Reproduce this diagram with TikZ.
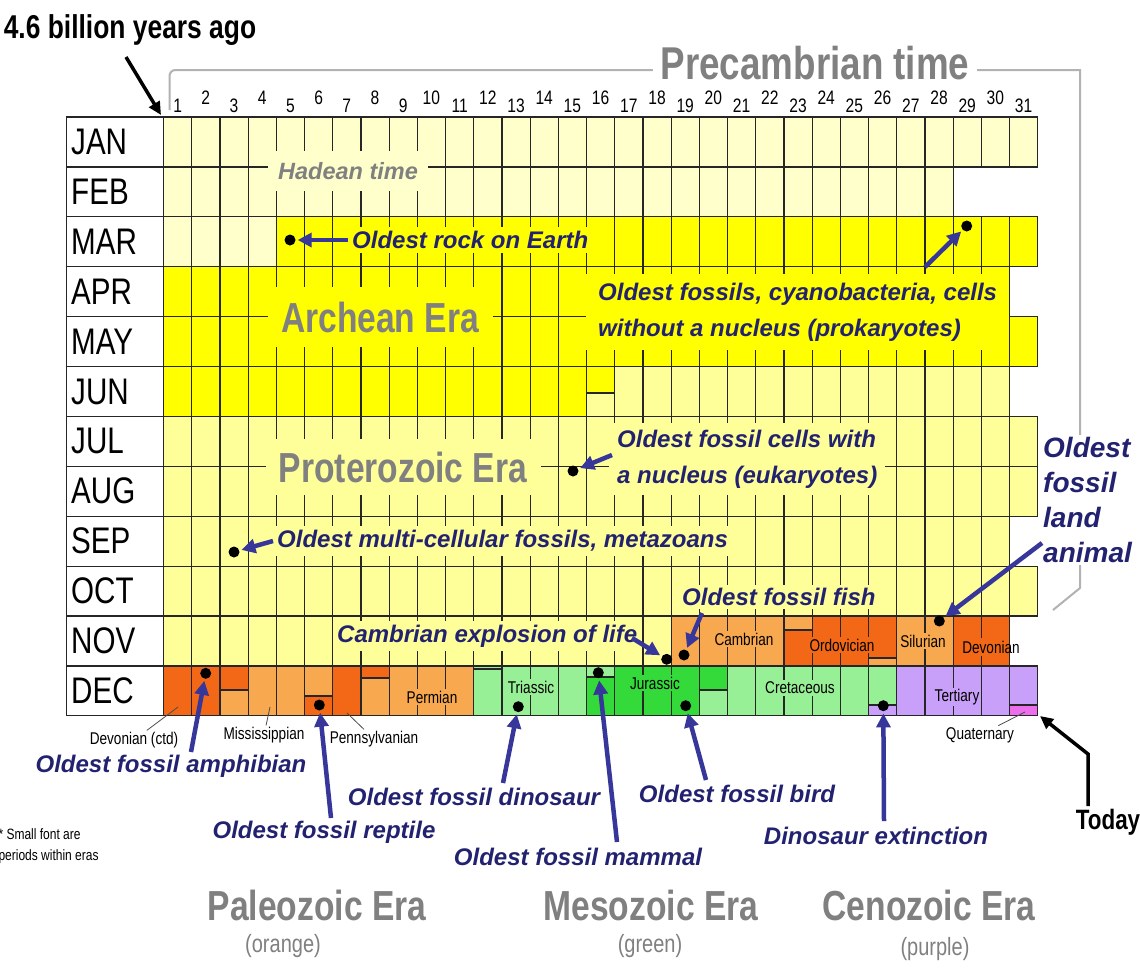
\documentclass[tikz,border=0pt]{standalone}
\usepackage{fontspec}
\setmainfont{Liberation Sans}
\newfontfamily\narrowfont[FakeStretch=0.8]{Liberation Sans}
\usetikzlibrary{arrows.meta,positioning}

\definecolor{hadean}{RGB}{255,255,204}
\definecolor{archean}{RGB}{255,255,0}
\definecolor{protero}{RGB}{255,255,153}
\definecolor{lorange}{RGB}{248,168,78}
\definecolor{dorange}{RGB}{242,104,22}
\definecolor{lgreen}{RGB}{152,240,150}
\definecolor{bgreen}{RGB}{52,218,58}
\definecolor{tpurple}{RGB}{200,160,250}
\definecolor{qmagenta}{RGB}{236,110,236}
\definecolor{annblue}{RGB}{34,34,112}
\definecolor{arrowblue}{RGB}{55,55,155}
\definecolor{eragrey}{RGB}{128,128,128}

% grid of the calendar (pt = px of the reference)
\newcommand\GX{163.5}
\newcommand\CW{28.2}
\newcommand\GY{117}
\newcommand\RH{49.9}
\newcommand\band[4]{\fill[#4] ({\GX+(#2-1)*\CW},{\GY+(#1-1)*\RH}) rectangle ({\GX+#3*\CW},{\GY+#1*\RH});}
\newcommand\cellpart[4]{\fill[#4] ({\GX+(#1-1)*\CW},#2) rectangle ({\GX+#1*\CW},#3);}
\newcommand\stepline[2]{\draw[gridline] ({\GX+(#1-1)*\CW},#2) -- ({\GX+#1*\CW},#2);}

\tikzset{
  gridline/.style={draw=black!85, line width=1.2pt},
  month/.style={anchor=west, font=\narrowfont\fontsize{37}{40}\selectfont, inner sep=0pt},
  daynum/.style={font=\narrowfont\fontsize{19.5}{21}\selectfont, inner sep=0pt},
  period/.style={font=\narrowfont\fontsize{17}{19}\selectfont, inner sep=1.5pt},
  ann/.style={text=annblue, font=\bfseries\itshape\fontsize{24}{36}\selectfont, inner sep=1pt},
  annleft/.style={ann, align=left, anchor=west},
  era/.style={text=eragrey, font=\narrowfont\bfseries\fontsize{42}{44}\selectfont, inner sep=0pt},
  erasub/.style={text=eragrey, font=\narrowfont\fontsize{25}{27}\selectfont, inner sep=0pt},
  fossil/.style={circle, fill=black, inner sep=0pt, minimum size=11pt},
  pointer/.style={draw=arrowblue, line width=4.5pt, -{Triangle[length=14pt,width=14pt]}, shorten >=2pt},
  blackarrow/.style={draw=black, line width=3.5pt, -{Triangle[length=13pt,width=12pt]}},
  tag/.style={draw=black!70, line width=0.8pt},
  bracket/.style={draw=black!30, line width=2pt},
}

\begin{document}
\begin{tikzpicture}[x=1pt,y=-1pt]
\useasboundingbox (0,0) rectangle (1140,967);
\fill[white] (0,0) rectangle (1140,967);

% era colours
\band{1}{1}{31}{hadean}
\band{2}{1}{28}{hadean}
\band{3}{1}{4}{hadean}
\band{3}{5}{31}{archean}
\band{4}{1}{30}{archean}
\band{5}{1}{31}{archean}
\band{6}{1}{15}{archean}
\cellpart{16}{366.5}{393}{archean}
\cellpart{16}{393}{416.4}{protero}
\band{6}{17}{30}{protero}
\band{7}{1}{31}{protero}
\band{8}{1}{31}{protero}
\band{9}{1}{30}{protero}
\band{10}{1}{31}{protero}
\band{11}{1}{18}{protero}
\band{11}{19}{22}{lorange}
\cellpart{23}{616}{630}{lorange}
\cellpart{23}{630}{665.9}{dorange}
\band{11}{24}{25}{dorange}
\cellpart{26}{616}{658}{dorange}
\cellpart{26}{658}{665.9}{lorange}
\band{11}{27}{28}{lorange}
\band{11}{29}{30}{dorange}
\band{12}{1}{2}{dorange}
\cellpart{3}{665.9}{690}{dorange}
\cellpart{3}{690}{715.8}{lorange}
\band{12}{4}{5}{lorange}
\cellpart{6}{665.9}{696}{lorange}
\cellpart{6}{696}{715.8}{dorange}
\band{12}{7}{7}{dorange}
\cellpart{8}{665.9}{678}{dorange}
\cellpart{8}{678}{715.8}{lorange}
\band{12}{9}{11}{lorange}
\band{12}{12}{15}{lgreen}
\cellpart{16}{665.9}{677}{lgreen}
\cellpart{16}{677}{715.8}{bgreen}
\band{12}{17}{19}{bgreen}
\cellpart{20}{665.9}{690}{bgreen}
\cellpart{20}{690}{715.8}{lgreen}
\band{12}{21}{25}{lgreen}
\cellpart{26}{665.9}{705}{lgreen}
\cellpart{26}{705}{715.8}{tpurple}
\band{12}{27}{30}{tpurple}
\cellpart{31}{665.9}{705}{tpurple}
\cellpart{31}{705}{715.8}{qmagenta}

% grid
\foreach \m/\n in {1/31,2/28,3/31,4/30,5/31,6/30,7/31,8/31,9/30,10/31,11/30,12/31}{
  \pgfmathsetmacro\rowtop{\GY+(\m-1)*\RH}
  \pgfmathtruncatemacro\last{\n-1}
  \draw[gridline] (66.7,\rowtop) rectangle (\GX,{\rowtop+\RH});
  \draw[gridline] (\GX,\rowtop) rectangle ({\GX+\n*\CW},{\rowtop+\RH});
  \foreach \d in {1,...,\last}
    \draw[gridline] ({\GX+\d*\CW},\rowtop) -- ++(0,\RH);
}
\stepline{16}{393}
\stepline{23}{630}
\stepline{26}{658}
\stepline{3}{690}
\stepline{6}{696}
\stepline{8}{678}
\stepline{12}{669}
\stepline{16}{677}
\stepline{20}{690}
\stepline{26}{705}
\stepline{31}{705}

% months and days
\foreach \m/\name in {1/JAN,2/FEB,3/MAR,4/APR,5/MAY,6/JUN,7/JUL,8/AUG,9/SEP,10/OCT,11/NOV,12/DEC}
  \node[month] (mon\m) at (71,{\GY+(\m-0.5)*\RH}) {\name};
\foreach \d in {1,...,31}{
  \pgfmathsetmacro\ny{mod(\d,2)==1 ? 106 : 98}
  \node[daynum] (day\d) at ({\GX+(\d-0.5)*\CW},\ny) {\d};
}

% Precambrian bracket
\draw[bracket] (169.5,110) [rounded corners=6pt] -- (169.5,70) -- (400,70) [sharp corners] -- (1080,70) -- (1080,588) -- (1053,610);
\node[era, fill=white, inner xsep=8pt, inner ysep=3pt, font=\narrowfont\bfseries\fontsize{46}{48}\selectfont] (precam) at (815,63) {Precambrian time};

\node[font=\narrowfont\bfseries\fontsize{33}{35}\selectfont] (age) at (130,30) {4.6 billion years ago};
\coordinate (agetail) at (126,57);
\coordinate (agetip) at (161,115);
\draw[blackarrow] (agetail) -- (agetip);

% eras inside the calendar
\node[era, fill=hadean, minimum width=160pt, minimum height=40pt, font=\bfseries\itshape\fontsize{23.5}{26}\selectfont] (hadean) at (348,171) {Hadean time};
\node[era, fill=archean, minimum width=225pt, minimum height=60pt] (archean) at (380,317) {Archean Era};
\node[era, fill=protero, minimum width=275pt, minimum height=56pt] (proterozoic) at (403,467) {Proterozoic Era};

% periods
\node[period, fill=lorange] (cambrian) at (744,639) {Cambrian};
\node[period, fill=dorange] (ordovician) at (842,645) {Ordovician};
\node[period, fill=lorange] (silurian) at (923,641) {Silurian};
\fill[dorange] (964,638) rectangle (1008.3,656);
\node[period] (devonian) at (991,647) {Devonian};
\node[period, fill=lorange] (permian) at (432,697) {Permian};
\node[period, fill=lgreen] (triassic) at (531,687) {Triassic};
\node[period, fill=bgreen] (jurassic) at (655,683) {Jurassic};
\node[period, fill=lgreen] (cretaceous) at (800,688) {Cretaceous};
\node[period, fill=tpurple] (tertiary) at (957,697) {Tertiary};

\node[period] (devctd) at (134,740) {Devonian (ctd)};
\node[period] (mississippian) at (264,735) {Mississippian};
\node[period] (pennsylvanian) at (374,739) {Pennsylvanian};
\node[period] (quaternary) at (980,735) {Quaternary};
\coordinate (devctdpt) at (178,707);
\coordinate (misspt) at (270,707);
\coordinate (pennpt) at (347,713);
\coordinate (quatpt) at (1025,712);
\draw[tag] (devctd) -- (devctdpt);
\draw[tag] (mississippian) -- (misspt);
\draw[tag] (pennsylvanian) -- (pennpt);
\draw[tag] (quaternary) -- (quatpt);

% fossil events
\node[fossil] (rockdot) at (290,240) {};
\node[fossil] (cyanodot) at (966.7,226) {};
\node[fossil] (eukdot) at (573,471) {};
\node[fossil] (metadot) at (234,552) {};
\node[fossil] (camdot) at (666.7,659.3) {};
\node[fossil] (fishdot) at (684,655) {};
\node[fossil] (landdot) at (939.3,621) {};
\node[fossil] (amphdot) at (205.7,673.3) {};
\node[fossil] (reptdot) at (319.3,705) {};
\node[fossil] (dinodot) at (518.3,706.7) {};
\node[fossil] (mammdot) at (598.3,672.7) {};
\node[fossil] (birddot) at (685.7,705.7) {};
\node[fossil] (extdot) at (883.3,705.7) {};

\node[annleft, fill=archean, inner xsep=4pt, inner ysep=4pt] (rock) at (348,240) {Oldest rock on Earth};
\node[annleft, fill=archean, inner xsep=12pt, inner ysep=9pt] (cyano) at (586,312) {Oldest fossils, cyanobacteria, cells\\without a nucleus (prokaryotes)};
\node[annleft, fill=protero, inner xsep=8pt, inner ysep=7pt] (euk) at (609,459) {Oldest fossil cells with\\a nucleus (eukaryotes)};
\node[annleft, fill=protero, inner sep=4pt] (meta) at (273,541) {Oldest multi-cellular fossils, metazoans};
\node[annleft, fill=protero, inner sep=4pt] (camexp) at (333,636) {Cambrian explosion of life};
\node[annleft, fill=protero, inner sep=3pt] (fish) at (679,597) {Oldest fossil fish};
\node[annleft, fill=white, inner sep=2pt, font=\bfseries\itshape\fontsize{28}{35}\selectfont] (land) at (1041,500) {Oldest\\fossil\\land\\animal};

\node[ann] (amph) at (171,766) {Oldest fossil amphibian};
\node[ann] (rept) at (324,832) {Oldest fossil reptile};
\node[ann] (dino) at (474,797) {Oldest fossil dinosaur};
\node[ann] (mamm) at (578,857) {Oldest fossil mammal};
\node[ann] (bird) at (737,794) {Oldest fossil bird};
\node[ann] (ext) at (876,836) {Dinosaur extinction};

\coordinate (cyanotail) at (925,267);
\coordinate (euktail) at (612,455);
\coordinate (camtail) at (632,638);
\coordinate (fishtail) at (702,613);
\coordinate (landtail) at (1042,543);
\coordinate (amphtail) at (191,752);
\coordinate (repttail) at (331,818);
\coordinate (dinotail) at (503,783);
\coordinate (mammtail) at (617,842);
\coordinate (birdtail) at (706,780);
\coordinate (exttail) at (884,821);

\draw[pointer] (rock.west) -- (rockdot);
\draw[pointer] (cyanotail) -- (cyanodot);
\draw[pointer] (euktail) -- (eukdot);
\draw[pointer] (meta.west) -- (metadot);
\draw[pointer] (camtail) -- (camdot);
\draw[pointer] (fishtail) -- (fishdot);
\draw[pointer] (landtail) -- (landdot);
\draw[pointer] (amphtail) -- (amphdot);
\draw[pointer] (repttail) -- (reptdot);
\draw[pointer] (dinotail) -- (dinodot);
\draw[pointer] (mammtail) -- (mammdot);
\draw[pointer] (birdtail) -- (birddot);
\draw[pointer] (exttail) -- (extdot);

% today
\node[font=\narrowfont\bfseries\fontsize{28}{30}\selectfont] (today) at (1108,822) {Today};
\coordinate (todaytail) at (1088,806);
\coordinate (todaybend) at (1088,754);
\coordinate (todaytip) at (1040,716);
\draw[blackarrow] (todaytail) -- (todaybend) -- (todaytip);

\node[anchor=west, align=left, font=\narrowfont\fontsize{15}{21}\selectfont] (footnote) at (-5,846) {* Small font are\\periods within eras};

% era names below
\node[era] (paleozoic) at (317,905) {Paleozoic Era};
\node[erasub] (orange) at (283,946) {(orange)};
\node[era] (mesozoic) at (651,905) {Mesozoic Era};
\node[erasub] (green) at (650,946) {(green)};
\node[era] (cenozoic) at (929,905) {Cenozoic Era};
\node[erasub] (purple) at (935,949) {(purple)};
\end{tikzpicture}
\end{document}
